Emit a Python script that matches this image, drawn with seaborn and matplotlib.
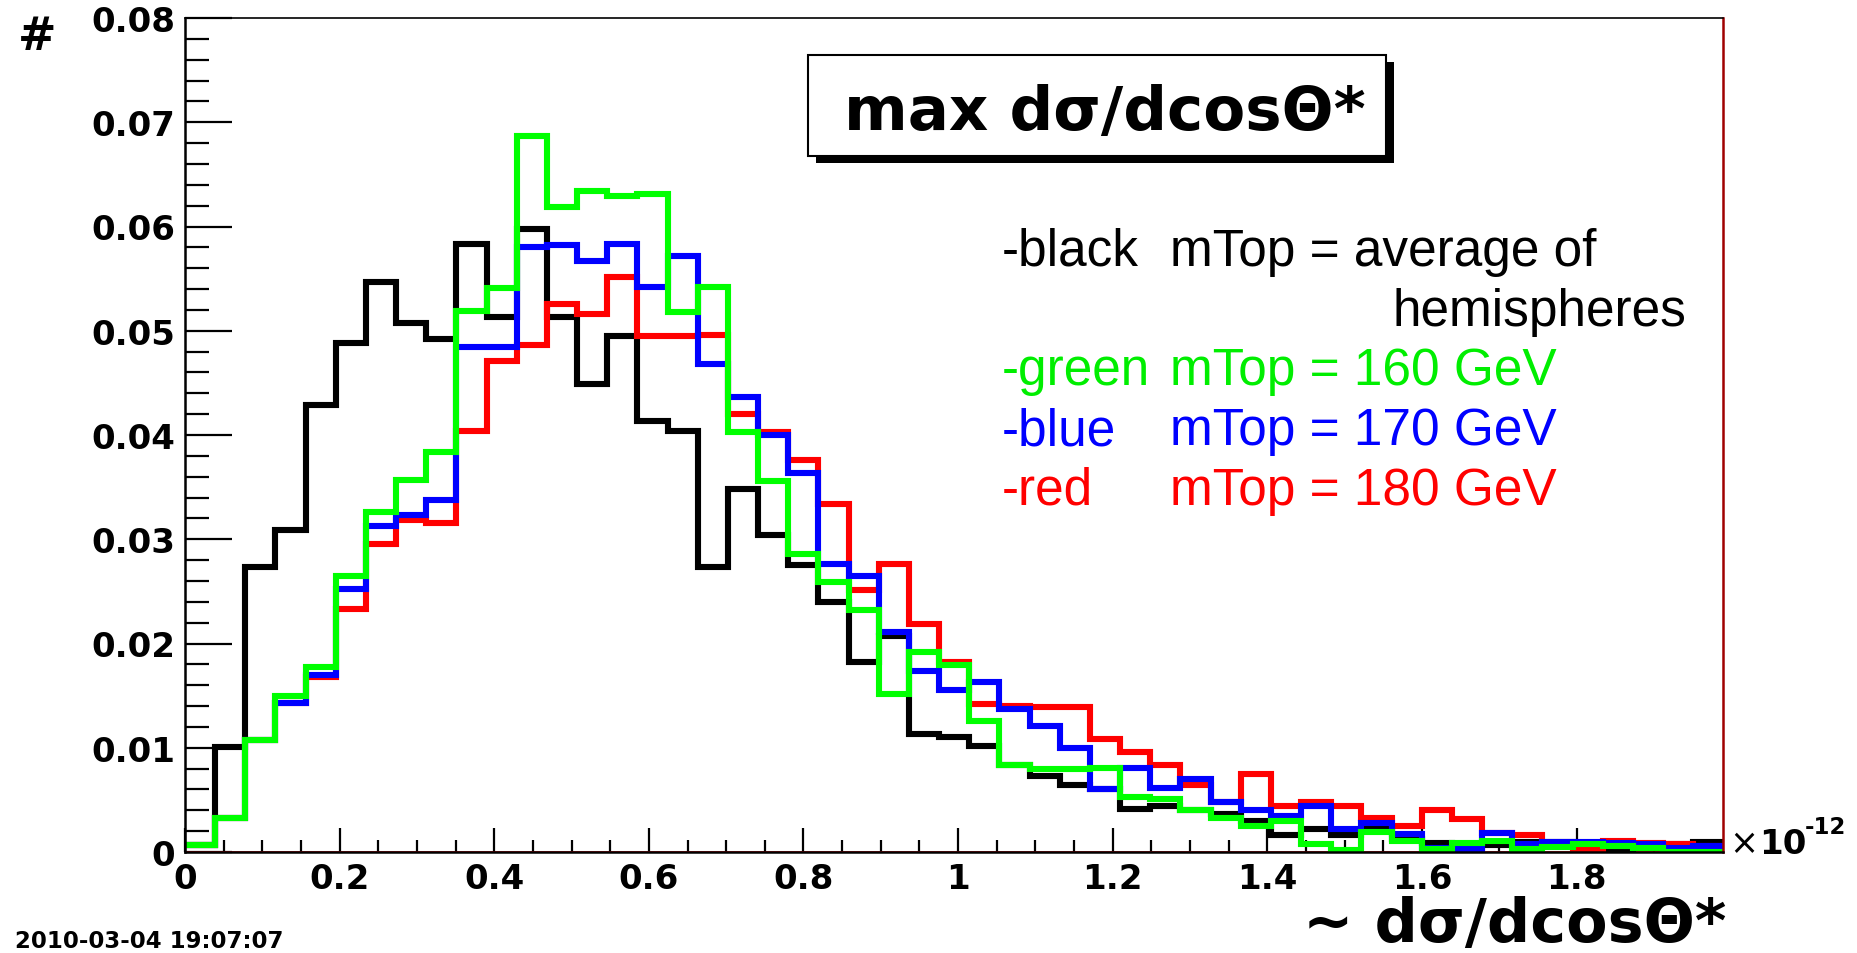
import numpy as np
import pandas as pd
import matplotlib
matplotlib.use("Agg")
import matplotlib.pyplot as plt
from matplotlib.patches import Rectangle
from matplotlib.ticker import MultipleLocator, FixedLocator, FixedFormatter
import seaborn as sns

# ---------------- data ----------------
x_min, x_max, n_bins = 0.0, 1.99, 51

black = [0.0007, 0.0101, 0.0273, 0.0309, 0.0429, 0.0488, 0.0547, 0.0507, 0.0492, 0.0583,
         0.0513, 0.0598, 0.0513, 0.0449, 0.0495, 0.0413, 0.0404, 0.0273, 0.0348, 0.0304,
         0.0275, 0.0240, 0.0182, 0.0207, 0.0113, 0.0110, 0.0102, 0.0083, 0.0073, 0.0064,
         0.0060, 0.0041, 0.0044, 0.0040, 0.0036, 0.0030, 0.0016, 0.0022, 0.0016, 0.0022,
         0.0012, 0.0009, 0.0004, 0.0007, 0.0010, 0.0010, 0.0005, 0.0003, 0.0004, 0.0008,
         0.0010]
green = [0.0007, 0.0033, 0.0107, 0.0150, 0.0177, 0.0265, 0.0326, 0.0357, 0.0384, 0.0519,
         0.0541, 0.0687, 0.0619, 0.0634, 0.0629, 0.0631, 0.0518, 0.0542, 0.0403, 0.0356,
         0.0286, 0.0259, 0.0232, 0.0152, 0.0192, 0.0179, 0.0126, 0.0083, 0.0080, 0.0080,
         0.0081, 0.0053, 0.0051, 0.0040, 0.0033, 0.0025, 0.0030, 0.0008, 0.0002, 0.0019,
         0.0011, 0.0003, 0.0009, 0.0011, 0.0003, 0.0005, 0.0008, 0.0006, 0.0004, 0.0000,
         0.0000]
blue = [0.0007, 0.0033, 0.0107, 0.0143, 0.0170, 0.0252, 0.0313, 0.0323, 0.0338, 0.0484,
        0.0484, 0.0580, 0.0582, 0.0567, 0.0583, 0.0542, 0.0572, 0.0468, 0.0436, 0.0400,
        0.0364, 0.0276, 0.0265, 0.0211, 0.0174, 0.0155, 0.0163, 0.0137, 0.0121, 0.0100,
        0.0060, 0.0081, 0.0061, 0.0070, 0.0048, 0.0040, 0.0035, 0.0044, 0.0022, 0.0028,
        0.0017, 0.0004, 0.0003, 0.0018, 0.0008, 0.0010, 0.0010, 0.0009, 0.0008, 0.0004,
        0.0006]
red = [0.0007, 0.0033, 0.0107, 0.0143, 0.0168, 0.0233, 0.0295, 0.0318, 0.0316, 0.0404,
       0.0471, 0.0486, 0.0526, 0.0516, 0.0552, 0.0495, 0.0495, 0.0496, 0.0420, 0.0403,
       0.0376, 0.0334, 0.0251, 0.0276, 0.0219, 0.0182, 0.0142, 0.0140, 0.0139, 0.0139,
       0.0108, 0.0096, 0.0083, 0.0064, 0.0048, 0.0075, 0.0044, 0.0048, 0.0044, 0.0033,
       0.0025, 0.0040, 0.0032, 0.0018, 0.0016, 0.0009, 0.0003, 0.0011, 0.0009, 0.0008,
       0.0006]

x_tick_values = [0, 0.2, 0.4, 0.6, 0.8, 1.0, 1.2, 1.4, 1.6, 1.8]
x_tick_labels = ["0", "0.2", "0.4", "0.6", "0.8", "1", "1.2", "1.4", "1.6", "1.8"]
y_tick_values = [0, 0.01, 0.02, 0.03, 0.04, 0.05, 0.06, 0.07, 0.08]
y_tick_labels = ["0", "0.01", "0.02", "0.03", "0.04", "0.05", "0.06", "0.07", "0.08"]

title_text = "max dσ/dcosΘ*"
x_label = "~ dσ/dcosΘ*"
y_label = "#"
date_text = "2010-03-04 19:07:07"

legend_prefix = ["-black", "-green", "-blue", "-red"]
legend_rest = ["mTop = average of", "mTop = 160 GeV", "mTop = 170 GeV", "mTop = 180 GeV"]
legend_extra = "hemispheres"

# ---------------- style ----------------
sns.set_style("white")
plt.rcParams["font.family"] = ["DejaVu Sans"]
plt.rcParams["text.color"] = "black"
plt.rcParams["xtick.color"] = "black"
plt.rcParams["ytick.color"] = "black"
plt.rcParams["axes.labelcolor"] = "black"
plt.rcParams["lines.solid_joinstyle"] = "miter"
plt.rcParams["lines.solid_capstyle"] = "projecting"

W, H = 1858, 954
fig = plt.figure(figsize=(W / 100, H / 100), dpi=100)
fig.patch.set_facecolor("white")


def fx(px):
    return px / W


def fy(py):
    return 1 - py / H


ax_l, ax_r, ax_t, ax_b = 185, 1723.5, 19, 853
ax = fig.add_axes([fx(ax_l), fy(ax_b), fx(ax_r) - fx(ax_l), (ax_b - ax_t) / H])
ax.set_facecolor("white")

edges = np.linspace(x_min, x_max, n_bins + 1)
centers = (edges[:-1] + edges[1:]) / 2
edge_list = [float(e) for e in edges]

series = [(black, "#000000"), (red, "#ff0000"), (blue, "#0000ff"), (green, "#00ff00")]
for vals, col in series:
    df = pd.DataFrame({"x": centers, "w": np.asarray(vals, dtype=float)})
    sns.histplot(data=df, x="x", weights="w", bins=edge_list, element="step", fill=False,
                 color=col, linewidth=4.4, ax=ax)

ax.set_xlim(x_min, x_max)
ax.set_ylim(0, 0.08)
ax.set_xlabel("")
ax.set_ylabel("")

ax.xaxis.set_major_locator(FixedLocator(x_tick_values))
ax.xaxis.set_major_formatter(FixedFormatter(x_tick_labels))
ax.xaxis.set_minor_locator(MultipleLocator(0.05))
ax.yaxis.set_major_locator(FixedLocator(y_tick_values))
ax.yaxis.set_major_formatter(FixedFormatter(y_tick_labels))
ax.yaxis.set_minor_locator(MultipleLocator(0.002))

ax.tick_params(axis="y", which="major", direction="in", length=34, width=1.6,
               labelsize=24.5, pad=7, right=False, left=True, colors="black")
ax.tick_params(axis="y", which="minor", direction="in", length=17, width=1.6, right=False,
               left=True, colors="black")
ax.tick_params(axis="x", which="major", direction="in", length=17, width=1.6,
               labelsize=24.5, pad=7, top=False, bottom=True, colors="black")
ax.tick_params(axis="x", which="minor", direction="in", length=8.5, width=1.6, top=False,
               bottom=True, colors="black")
for lab in ax.get_xticklabels() + ax.get_yticklabels():
    lab.set_fontweight("bold")

for s in ["left", "bottom"]:
    ax.spines[s].set_color("black")
    ax.spines[s].set_linewidth(1.8)
ax.spines["top"].set_color("black")
ax.spines["top"].set_linewidth(1.2)
ax.spines["right"].set_color("#a00000")
ax.spines["right"].set_linewidth(1.8)
ax.axhline(0, color="#ff0000", lw=1.2, zorder=1)

# ---------------- texts ----------------
fig.text(fx(37), fy(38), y_label, fontsize=33, fontweight="bold", ha="center", va="center")
fig.text(fx(1726), fy(926), x_label, fontsize=43.5, fontweight="bold", ha="right", va="center")
fig.text(fx(1729), fy(854), "×", fontsize=25, ha="left", va="baseline")
fig.text(fx(1759), fy(854), "10", fontsize=24.5, fontweight="bold", ha="left", va="baseline")
fig.text(fx(1805), fy(834), "-12", fontsize=16.5, fontweight="bold", ha="left", va="baseline")
fig.text(fx(15), fy(948), date_text, fontsize=16.5, fontweight="bold", ha="left", va="baseline")

# title box with shadow
bx0, by0, bx1, by1 = 808, 56, 1386, 157
shadow = Rectangle((fx(bx0 + 8), fy(by1 + 7)), fx(bx1 - bx0), (by1 - by0) / H,
                   transform=fig.transFigure, facecolor="black", edgecolor="black", lw=0)
box = Rectangle((fx(bx0), fy(by1)), fx(bx1 - bx0), (by1 - by0) / H,
                transform=fig.transFigure, facecolor="white", edgecolor="black", lw=1.5)
fig.patches.extend([shadow, box])
fig.text(fx(1105), fy(114), title_text, fontsize=44, fontweight="bold",
         ha="center", va="center")

# legend-like text block
leg_colors = ["#000000", "#00ee00", "#0000ff", "#ff0000"]
baselines = [266, 385, 445, 505]
for pre, rest, col, yb in zip(legend_prefix, legend_rest, leg_colors, baselines):
    fig.text(fx(1002), fy(yb), pre, fontsize=37, family="Liberation Sans", color=col,
             ha="left", va="baseline")
    fig.text(fx(1170), fy(yb), rest, fontsize=37, family="Liberation Sans", color=col,
             ha="left", va="baseline")
fig.text(fx(1686), fy(326), legend_extra, fontsize=37, family="Liberation Sans",
         color="#000000", ha="right", va="baseline")

fig.savefig("out.png", dpi=100, facecolor="white")
